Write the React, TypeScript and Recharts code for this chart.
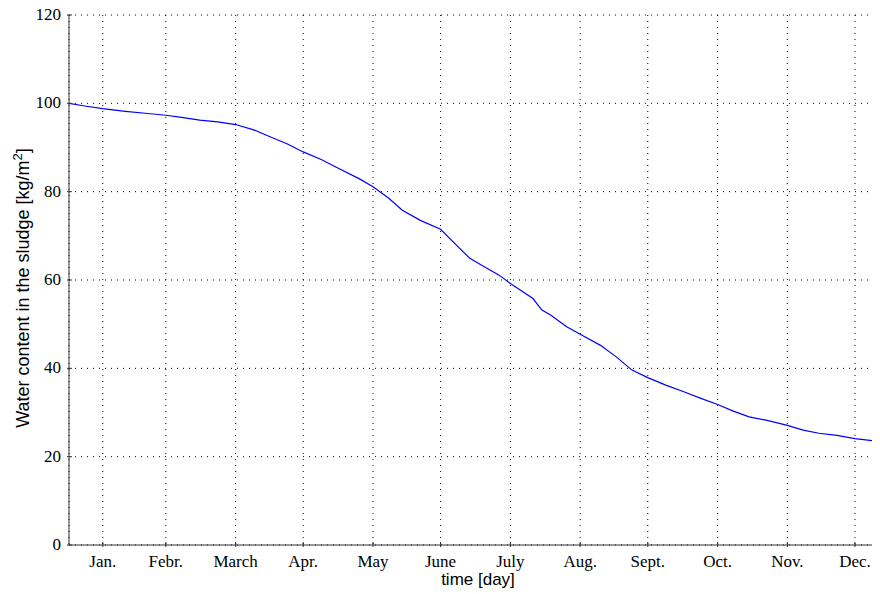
import React from "react";
import { LineChart, Line, XAxis, YAxis, CartesianGrid } from "recharts";

// day of year -> water content [kg/m2]
const days = [
  0, 7, 15, 25, 35, 43, 50, 58, 66, 74, 82, 89, 97, 104, 112, 120, 129, 135,
  142, 148, 156, 165, 172, 178, 184, 191, 196, 206, 210, 214, 221, 227, 236,
  243, 250, 257, 265, 273, 280, 288, 295, 302, 310, 319, 326, 333, 341, 349,
  360, 365,
];
const water = [
  100, 99.4, 98.8, 98.2, 97.7, 97.3, 96.8, 96.2, 95.8, 95.2, 94.0, 92.5, 90.8,
  89.0, 87.3, 85.2, 82.9, 81.1, 78.5, 75.8, 73.5, 71.5, 67.9, 64.9, 63.1, 61.1,
  59.2, 55.8, 53.2, 52.0, 49.4, 47.7, 45.2, 42.6, 39.6, 37.9, 36.2, 34.7, 33.3,
  31.8, 30.3, 29.0, 28.2, 27.1, 26.0, 25.3, 24.8, 24.1, 23.4, 23.1,
];

const monthTicks = [15, 43, 74, 104, 135, 165, 196, 227, 257, 288, 319, 349];
const monthLabels = [
  "Jan.", "Febr.", "March", "Apr.", "May", "June",
  "July", "Aug.", "Sept.", "Oct.", "Nov.", "Dec.",
];
const yTicks = [0, 20, 40, 60, 80, 100, 120];

const data = days.map((d, i) => ({ day: d, water: water[i] }));

const serif = "'Liberation Serif', 'Times New Roman', serif";
const sans = "'Liberation Sans', Arial, sans-serif";
const axisColor = "#333";

function BottomTick({ x, y, payload }: any) {
  const i = monthTicks.indexOf(payload.value);
  return (
    <g>
      <line x1={x} y1={y} x2={x} y2={y - 5} stroke={axisColor} />
      <text x={x} y={y + 20} textAnchor="middle" fontFamily={serif} fontSize={17} fill="#000">
        {monthLabels[i]}
      </text>
    </g>
  );
}

function TopTick({ x, y }: any) {
  return <line x1={x} y1={y} x2={x} y2={y + 5} stroke={axisColor} />;
}

function LeftTick({ x, y, payload }: any) {
  return (
    <g>
      <line x1={x} y1={y} x2={x + 5} y2={y} stroke={axisColor} />
      <text x={x - 6} y={y + 5} textAnchor="end" fontFamily={serif} fontSize={17} fill="#000">
        {payload.value}
      </text>
    </g>
  );
}

function YLabel({ viewBox }: any) {
  const cx = 26;
  const cy = viewBox.y + viewBox.height / 2 + 8;
  return (
    <text
      x={cx}
      y={cy}
      transform={`rotate(-90, ${cx}, ${cy})`}
      textAnchor="middle"
      fontFamily={sans}
      fontSize={18}
      fill="#000"
    >
      Water content in the sludge [kg/m
      <tspan dy={-7} fontSize={13}>2</tspan>
      <tspan dy={7}>]</tspan>
    </text>
  );
}

function XLabel({ viewBox }: any) {
  return (
    <text
      x={viewBox.x + viewBox.width / 2 - 2}
      y={viewBox.y + 40}
      textAnchor="middle"
      fontFamily={sans}
      fontSize={17}
      fill="#000"
    >
      time [day]
    </text>
  );
}

export default function App() {
  return (
    <div style={{ width: 872, height: 594, overflow: "hidden", marginTop: -5, marginLeft: -5 }}>
      <LineChart
        width={905}
        height={585}
        data={data}
        margin={{ top: 12, right: 17, left: 5, bottom: 0 }}
      >
        <CartesianGrid stroke="#000" strokeDasharray="1 5" />
        <XAxis
          dataKey="day"
          type="number"
          domain={[0, 365]}
          ticks={monthTicks}
          interval={0}
          allowDataOverflow
          height={43}
          tickSize={0}
          tickLine={false}
          tick={<BottomTick />}
          stroke={axisColor}
          label={{ content: <XLabel /> }}
        />
        <XAxis
          xAxisId="top"
          orientation="top"
          dataKey="day"
          type="number"
          domain={[0, 365]}
          ticks={monthTicks}
          interval={0}
          height={0}
          tickSize={0}
          tickLine={false}
          tick={<TopTick />}
          stroke="#555"
        />
        <YAxis
          domain={[0, 120]}
          ticks={yTicks}
          interval={0}
          width={61}
          tickSize={0}
          tickLine={false}
          tick={<LeftTick />}
          stroke={axisColor}
          label={{ content: <YLabel /> }}
        />
        <Line
          type="linear"
          dataKey="water"
          stroke="#0000ff"
          strokeWidth={1.2}
          dot={false}
          isAnimationActive={false}
        />
      </LineChart>
    </div>
  );
}
